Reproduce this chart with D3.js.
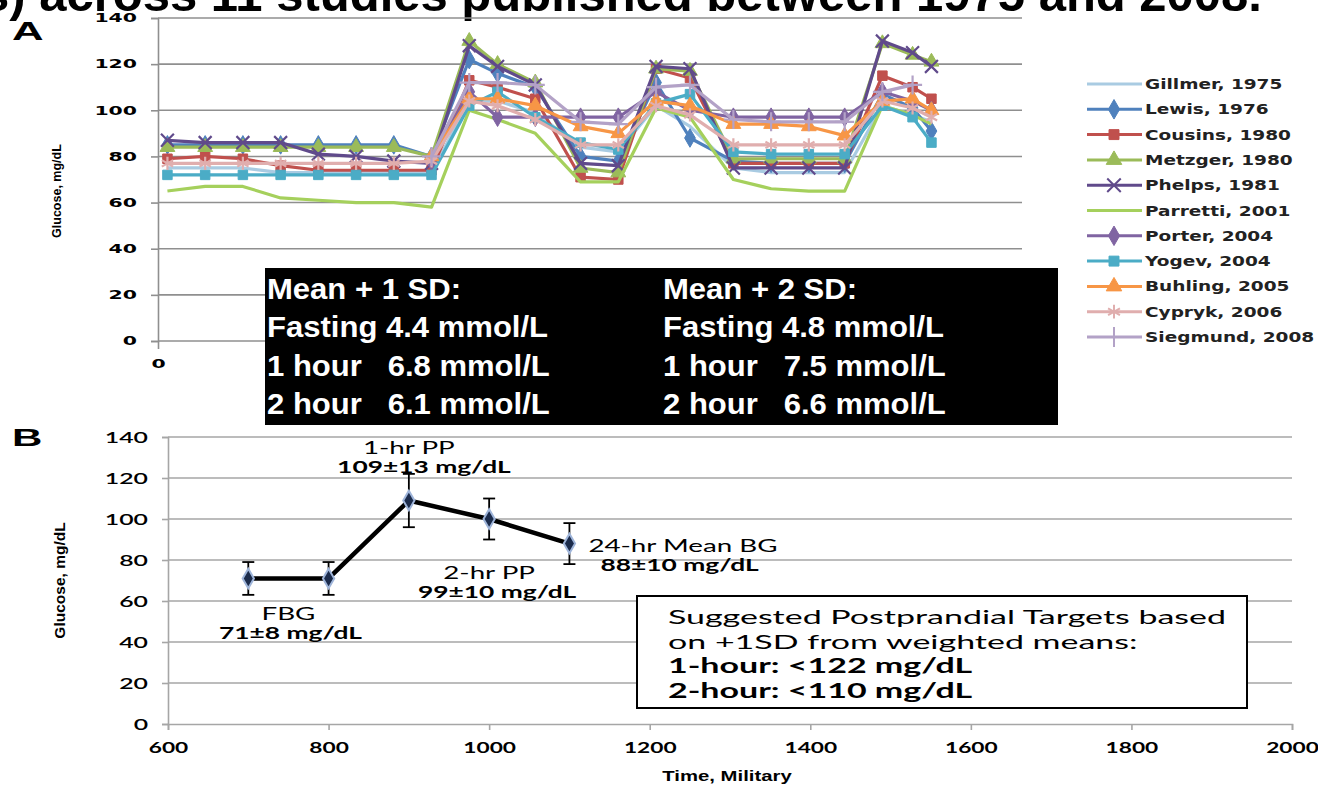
<!DOCTYPE html>
<html>
<head>
<meta charset="utf-8">
<script src="https://cdn.jsdelivr.net/npm/d3@7"></script>
<style>
  body { margin: 0; background: #fff; }
  svg { display: block; }
  text { white-space: pre; }
</style>
</head>
<body>
<svg id="chart_svg" width="1318" height="785"></svg>
<script>
// ---------- Panel A data (time points, in hours from start of record) ----------
const timesA = [0.25, 1.25, 2.25, 3.25, 4.25, 5.25, 6.25, 7.25, 8.25, 9, 10, 11.2, 12.2,
  13.2, 14.1, 15.25, 16.25, 17.25, 18.2, 19.2, 20, 20.5];

const studies = ["Gillmer, 1975", "Lewis, 1976", "Cousins, 1980", "Metzger, 1980", "Phelps, 1981",
  "Parretti, 2001", "Porter, 2004", "Yogev, 2004", "Buhling, 2005", "Cypryk, 2006", "Siegmund, 2008"];

const gillmer  = [75, 75, 75, 73, 73, 73, 73, 73, 104, 104, 99, 84, 82, 102, 93, 75, 73, 73, 73, 102, 98, 95];
const lewis    = [85, 85, 85, 85, 85, 85, 85, 80, 122, 116, 110, 80, 78, 112, 88, 78, 77, 77, 77, 107, 101, 91];
const cousins  = [79, 80, 79, 76, 74, 74, 74, 74, 113, 110, 105, 71, 70, 118, 114, 77, 77, 77, 77, 115, 110, 105];
const metzger  = [84, 84, 84, 84, 84, 84, 84, 80, 130, 120, 112, 75, 73, 118, 117, 79, 79, 79, 79, 129, 124, 121];
const phelps   = [87, 86, 86, 86, 81, 80, 78, 77, 128, 119, 111, 77, 76, 119, 118, 75, 75, 75, 75, 130, 125, 119];
const parretti = [65, 67, 67, 62, 61, 60, 60, 58, 100, 96, 90, 69, 69, 101, 97, 70, 66, 65, 65, 102, 98, 94];
const porter   = [null, null, null, null, null, null, null, 78, 108, 97, 97, 97, 97, 108, 100, 97, 97, 97, 97, 108, 104, 100];
const yogev    = [72, 72, 72, 72, 72, 72, 72, 72, 102, 108, 97, 86, 83, 103, 107, 82, 81, 81, 81, 102, 97, 86];
const buhling  = [null, null, null, null, null, null, null, 80, 105, 105, 102, 93, 90, 104, 102, 94, 94, 93, 89, 104, 105, 100];
const cypryk   = [77, 77, 77, 77, 77, 77, 77, 78, 104, 102, 96, 85, 85, 102, 98, 85, 85, 85, 85, 104, 101, 97];
const siegmund = [null, null, null, null, null, null, null, 80, 112, 112, 111, 95, 94, 110, 111, 96, 95, 95, 95, 108, 111, null];

const seriesA = [gillmer, lewis, cousins, metzger, phelps, parretti, porter, yogev, buhling, cypryk, siegmund];
const yTicks = [0, 20, 40, 60, 80, 100, 120, 140];
const xTicksA = [0];

const sd1Lines = ["Mean + 1 SD:", "Fasting 4.4 mmol/L", "1 hour   6.8 mmol/L", "2 hour   6.1 mmol/L"];
const sd2Lines = ["Mean + 2 SD:", "Fasting 4.8 mmol/L", "1 hour   7.5 mmol/L", "2 hour   6.6 mmol/L"];

// ---------- Panel B data ----------
const timesB = [700, 800, 900, 1000, 1100];
const meanB = [71, 71, 109, 100, 88];
const sdB = [8, 8, 13, 10, 10];
const xTicksB = [600, 800, 1000, 1200, 1400, 1600, 1800, 2000];
const noteNames = ["FBG", "1-hr PP", "2-hr PP", "24-hr Mean BG"];
const noteValues = ["71±8 mg/dL", "109±13 mg/dL", "99±10 mg/dL", "88±10 mg/dL"];
const targetLines = ["Suggested Postprandial Targets based", "on +1SD from weighted means:",
  "1-hour: <122 mg/dL", "2-hour: <110 mg/dL"];

// ---------- helpers ----------
const svg = d3.select("#chart_svg");

// the source figure is stretched sideways, so text is widened to match
function stretch(sel, sx) {
  sel.each(function () {
    const el = d3.select(this);
    const w = this.getComputedTextLength();
    const anchor = getComputedStyle(this).textAnchor;
    const x = +(this.getAttribute("x") || 0);
    const nw = w * sx;
    let nx = x;
    if (anchor === "middle") nx = x - nw / 2;
    else if (anchor === "end") nx = x - nw;
    el.attr("x", nx).attr("text-anchor", "start").style("text-anchor", "start")
      .attr("textLength", nw).attr("lengthAdjust", "spacingAndGlyphs");
  });
}
function natural(sel) {
  return sel.node().getComputedTextLength();
}

// title remnant cut off at the top
svg.append("text")
  .attr("x", 1262).attr("y", 11)
  .attr("text-anchor", "end")
  .style("font", "bold 49px 'Liberation Sans', Arial, sans-serif")
  .text("(glucose levels) across 11 studies published between 1975 and 2008.");

// panel letters
svg.append("text").attr("x", 12).attr("y", 40)
  .style("font", "900 25px 'Liberation Sans', Arial, sans-serif").text("A")
  .call(stretch, 1.75);
svg.append("text").attr("x", 12).attr("y", 446)
  .style("font", "900 24px 'Liberation Sans', Arial, sans-serif").text("B")
  .call(stretch, 1.75);

// ================= Panel A =================
const xA = d3.scaleLinear().domain([0, 22.9]).range([158, 1022]);
const yA = d3.scaleLinear().domain([0, 140]).range([341, 18]);

const gA = svg.append("g");

gA.selectAll(".gridA").data(yTicks).enter().append("line")
  .attr("x1", xA(0)).attr("x2", xA(22.9))
  .attr("y1", d => yA(d)).attr("y2", d => yA(d))
  .attr("stroke", "#8f8f8f").attr("stroke-width", 1.6);

const yAxisA = gA.append("g").attr("transform", `translate(${xA(0)},0)`)
  .call(d3.axisLeft(yA).tickValues(yTicks).tickSize(7).tickPadding(14));
yAxisA.select(".domain").attr("stroke", "#8f8f8f").attr("stroke-width", 1.6);
yAxisA.selectAll(".tick line").attr("stroke", "#8f8f8f").attr("stroke-width", 1.6);
yAxisA.selectAll(".tick text")
  .style("font", "bold 12px 'DejaVu Sans', Verdana, sans-serif").attr("fill", "#000")
  .call(stretch, 1.7);

const xAxisA = gA.append("g").attr("transform", `translate(0,${yA(0)})`)
  .call(d3.axisBottom(xA).tickValues(xTicksA).tickSize(8).tickPadding(10));
xAxisA.select(".domain").remove();
xAxisA.selectAll(".tick line").attr("stroke", "#8f8f8f").attr("stroke-width", 1.6);
xAxisA.selectAll(".tick text")
  .style("font", "bold 12px 'DejaVu Sans', Verdana, sans-serif").attr("fill", "#000")
  .call(stretch, 1.7);

gA.append("text")
  .attr("transform", `translate(61,${yA(65)}) rotate(-90)`)
  .attr("text-anchor", "middle")
  .style("font", "bold 12.5px 'Liberation Sans Narrow', 'Arial Narrow', sans-serif")
  .text("Glucose, mg/dL");

const colorsA = ["#a9cbe2", "#4f81bd", "#c0504d", "#9bbb59", "#604a8b", "#a5d05c",
  "#8064a2", "#4bacc6", "#f79646", "#e0aeae", "#b3a2c7"];
const symbolsA = [null, d3.symbolDiamond, d3.symbolSquare, d3.symbolTriangle, d3.symbolTimes, null,
  d3.symbolDiamond, d3.symbolSquare, d3.symbolTriangle, d3.symbolAsterisk, d3.symbolPlus];
const symSize = [0, 100, 90, 95, 110, 0, 100, 90, 95, 120, 120];
const strokeSym = [false, false, false, false, true, false, false, false, false, true, true];

const lineA = d3.line()
  .defined(d => d.v != null)
  .x(d => xA(d.t))
  .y(d => yA(d.v));

seriesA.forEach((vals, i) => {
  const pts = vals.map((v, j) => ({ t: timesA[j], v: v }));
  gA.append("path").datum(pts)
    .attr("fill", "none")
    .attr("stroke", colorsA[i])
    .attr("stroke-width", 3.2)
    .attr("stroke-linejoin", "round")
    .attr("d", lineA);
  if (symbolsA[i]) {
    const sym = d3.symbol().type(symbolsA[i]).size(symSize[i]);
    gA.selectAll(".m" + i).data(pts.filter(d => d.v != null)).enter().append("path")
      .attr("class", "m" + i)
      .attr("transform", d => `translate(${xA(d.t)},${yA(d.v)})`)
      .attr("d", sym)
      .attr("fill", strokeSym[i] ? "none" : colorsA[i])
      .attr("stroke", colorsA[i])
      .attr("stroke-width", strokeSym[i] ? 2.2 : 1);
  }
});

// legend
const legend = svg.append("g").attr("class", "legend");
const legItems = legend.selectAll(".legendItem").data(studies).enter().append("g")
  .attr("class", "legendItem")
  .attr("transform", (d, i) => `translate(1087,${84 + i * 25.3})`);
legItems.append("line")
  .attr("x1", 0).attr("x2", 55).attr("y1", 0).attr("y2", 0)
  .attr("stroke", (d, i) => colorsA[i]).attr("stroke-width", 3);
legItems.each(function (d, i) {
  if (!symbolsA[i]) return;
  d3.select(this).append("path")
    .attr("transform", "translate(27,0)")
    .attr("d", d3.symbol().type(symbolsA[i]).size(symSize[i] * 1.1))
    .attr("fill", strokeSym[i] ? "none" : colorsA[i])
    .attr("stroke", colorsA[i])
    .attr("stroke-width", strokeSym[i] ? 2 : 1);
});
legItems.append("text")
  .attr("x", 58).attr("y", 5)
  .style("font", "bold 13.5px 'DejaVu Sans', Verdana, sans-serif")
  .attr("fill", "#222")
  .text(d => d)
  .call(stretch, 1.37);

// black summary box
svg.append("rect")
  .attr("x", 265).attr("y", 268).attr("width", 793).attr("height", 157)
  .attr("fill", "#000");
[sd1Lines, sd2Lines].forEach((lines, c) => {
  svg.selectAll(".sd" + c).data(lines).enter().append("text")
    .attr("class", "sd" + c)
    .attr("x", c === 0 ? 267 : 663)
    .attr("y", (d, i) => 299 + i * 38.3)
    .attr("fill", "#fff")
    .style("font", "bold 29px 'Liberation Sans', Arial, sans-serif")
    .text(d => d)
    .call(stretch, 1.07);
});

// ================= Panel B =================
const xB = d3.scaleLinear().domain([600, 2000]).range([168, 1292]);
const yB = d3.scaleLinear().domain([0, 140]).range([724, 437]);
const gB = svg.append("g");

gB.selectAll(".gridB").data(yTicks.slice(1)).enter().append("line")
  .attr("x1", xB(600)).attr("x2", xB(2000))
  .attr("y1", d => yB(d)).attr("y2", d => yB(d))
  .attr("stroke", "#a6a6a6").attr("stroke-width", 1.6);

const yAxisB = gB.append("g").attr("transform", `translate(${xB(600)},0)`)
  .call(d3.axisLeft(yB).tickValues(yTicks).tickSize(6).tickPadding(14));
yAxisB.select(".domain").attr("stroke", "#a6a6a6").attr("stroke-width", 1.6);
yAxisB.selectAll(".tick line").attr("stroke", "#a6a6a6").attr("stroke-width", 1.6);
yAxisB.selectAll(".tick text")
  .style("font", "600 16px Lato, 'Open Sans', sans-serif").attr("fill", "#000")
  .call(stretch, 1.55);

const xAxisB = gB.append("g").attr("transform", `translate(0,${yB(0)})`)
  .call(d3.axisBottom(xB).tickValues(xTicksB).tickFormat(d3.format("d")).tickSize(6).tickPadding(12));
xAxisB.select(".domain").attr("stroke", "#a6a6a6").attr("stroke-width", 1.6);
xAxisB.selectAll(".tick line").attr("stroke", "#a6a6a6").attr("stroke-width", 1.6);
xAxisB.selectAll(".tick text")
  .style("font", "bold 16px Lato, 'Open Sans', sans-serif").attr("fill", "#000")
  .call(stretch, 1.42);

gB.append("text")
  .attr("transform", `translate(65,${yB(70)}) rotate(-90)`)
  .attr("text-anchor", "middle")
  .style("font", "bold 15.5px 'Liberation Sans Narrow', 'Arial Narrow', sans-serif")
  .text("Glucose, mg/dL");

gB.append("text")
  .attr("x", 727).attr("y", 781)
  .attr("text-anchor", "middle")
  .style("font", "bold 14px 'Liberation Sans Narrow', 'Arial Narrow', sans-serif")
  .text("Time, Military")
  .call(stretch, 1.45);

const ptsB = timesB.map((t, i) => ({ t: t, m: meanB[i], sd: sdB[i] }));

// error bars
const eb = gB.selectAll(".eb").data(ptsB).enter().append("g").attr("class", "eb");
eb.append("line")
  .attr("x1", d => xB(d.t)).attr("x2", d => xB(d.t))
  .attr("y1", d => yB(d.m - d.sd)).attr("y2", d => yB(d.m + d.sd))
  .attr("stroke", "#000").attr("stroke-width", 1.8);
[-1, 1].forEach(s => {
  eb.append("line")
    .attr("x1", d => xB(d.t) - 6).attr("x2", d => xB(d.t) + 6)
    .attr("y1", d => yB(d.m + s * d.sd)).attr("y2", d => yB(d.m + s * d.sd))
    .attr("stroke", "#000").attr("stroke-width", 1.8);
});

gB.append("path").datum(ptsB)
  .attr("fill", "none").attr("stroke", "#000").attr("stroke-width", 4.5)
  .attr("stroke-linejoin", "round")
  .attr("d", d3.line().x(d => xB(d.t)).y(d => yB(d.m)));

gB.selectAll(".mk").data(ptsB).enter().append("path")
  .attr("class", "mk")
  .attr("transform", d => `translate(${xB(d.t)},${yB(d.m)})`)
  .attr("d", d3.symbol().type(d3.symbolDiamond).size(110))
  .attr("fill", "#1c2c4c").attr("stroke", "#9fb5da").attr("stroke-width", 2);

// annotations, anchored to the points
const noteFont = "17px Lato, 'Open Sans', sans-serif";
const noteBold = "bold 17px Lato, 'Open Sans', sans-serif";
const probe = svg.append("text").style("font", noteFont).text(noteNames[3]);
const noteSx = 189 / natural(probe);
probe.remove();
const notePos = [
  { x: (xB(timesB[0]) + xB(timesB[1])) / 2, y: yB(meanB[0]) + 42, anchor: "middle", dx: 2 },
  { x: xB(timesB[2]), y: yB(meanB[2]) - 47, anchor: "middle", dx: 15 },
  { x: xB(timesB[3]), y: yB(meanB[3]) + 60, anchor: "middle", dx: 8 },
  { x: xB(timesB[4]) + 19, y: yB(meanB[4]) + 8, anchor: "start", dx: 12 }
];
noteNames.forEach((n, i) => {
  const p = notePos[i];
  gB.append("text").attr("x", p.x).attr("y", p.y).attr("text-anchor", p.anchor)
    .style("font", noteFont).text(n).call(stretch, noteSx);
  gB.append("text").attr("x", p.x + p.dx).attr("y", p.y + 19).attr("text-anchor", p.anchor)
    .style("font", noteBold).text(noteValues[i]).call(stretch, noteSx * 0.95);
});

// targets box
svg.append("rect")
  .attr("x", 637).attr("y", 596).attr("width", 610).attr("height", 112)
  .attr("fill", "#fff").attr("stroke", "#000").attr("stroke-width", 2);
const tgText = svg.selectAll(".tg").data(targetLines).enter().append("text")
  .attr("class", "tg")
  .attr("x", 668).attr("y", (d, i) => 624 + i * 24.5)
  .style("font", (d, i) => (i < 2 ? "" : "bold ") + "20px Lato, 'Open Sans', sans-serif")
  .text(d => d);
const tgSx = 558 / tgText.nodes()[0].getComputedTextLength();
tgText.call(stretch, tgSx);
</script>
</body>
</html>
